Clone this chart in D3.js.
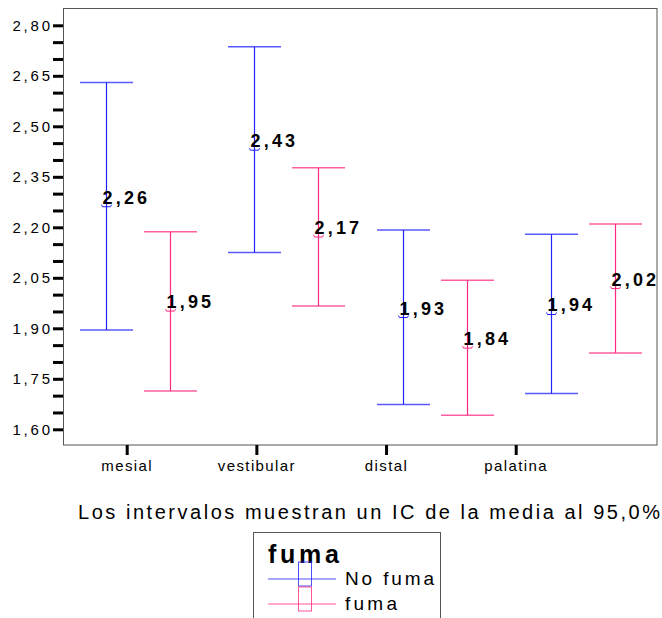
<!DOCTYPE html>
<html>
<head>
<meta charset="utf-8">
<script src="https://cdn.jsdelivr.net/npm/d3@7"></script>
<style>
  body { margin: 0; background: #fff; }
  svg { display: block; font-family: "Liberation Sans", Arial, sans-serif; }
</style>
</head>
<body>
<div id="chart"></div>
<script>
// categories and groups
const categories = ["mesial", "vestibular", "distal", "palatina"]
const groups = ["No fuma", "fuma"]

// means and 95% CI bounds
const noFumaMean  = [2.264, 2.432, 1.935, 1.944]
const noFumaLower = [1.895, 2.125, 1.674, 1.706]
const noFumaUpper = [2.630, 2.736, 2.192, 2.179]

const fumaMean  = [1.954, 2.174, 1.844, 2.021]
const fumaLower = [1.714, 1.966, 1.642, 1.827]
const fumaUpper = [2.187, 2.377, 2.043, 2.210]

const yTicks = [1.60, 1.75, 1.90, 2.05, 2.20, 2.35, 2.50, 2.65, 2.80]
const caption = "Los intervalos muestran un IC de la media al 95,0%"

const colours = { "No fuma": "#2222ff", "fuma": "#ff2a80" }

const width = 662, height = 618
const plot = { left: 63.5, right: 657, top: 8.5, bottom: 445 }

const svg = d3.select("#chart")
    .append("svg")
    .attr("width", width)
    .attr("height", height)

const y = d3.scaleLinear()
    .domain([1.60, 2.80])
    .range([429.3, 25.3])

// bars sit on a band over the whole plot, axis ticks on their own point scale
const xBand = d3.scaleBand()
    .domain(categories)
    .range([plot.left, plot.right])

const xGroup = d3.scalePoint()
    .domain(groups)
    .range([-31.8, 32.2])

const xTick = d3.scalePoint()
    .domain(categories)
    .range([126.7, 515.7])

const fmt = d => d3.format(".2f")(d).replace(".", ",")

// frame
svg.append("rect")
    .attr("x", plot.left)
    .attr("y", plot.top)
    .attr("width", plot.right - plot.left)
    .attr("height", plot.bottom - plot.top)
    .attr("fill", "none")
    .attr("stroke", "#555")

// y axis: minor ticks every 0.05, labels every 0.15
const minor = d3.range(0, 25).map(i => +(1.60 + i * 0.05).toFixed(2))
const yAxis = svg.append("g")
    .attr("transform", `translate(${plot.left - 0.5},0)`)
    .call(d3.axisLeft(y)
        .tickValues(minor)
        .tickSize(10)
        .tickPadding(3)
        .tickFormat(d => yTicks.some(t => Math.abs(t - d) < 1e-6) ? fmt(d) : ""))
yAxis.select(".domain").remove()
yAxis.selectAll(".tick line").attr("stroke", "#000").attr("stroke-width", 3)
yAxis.selectAll(".tick text")
    .attr("fill", "#000")
    .style("font-size", "15px")
    .style("letter-spacing", "2.8px")
    .attr("dx", "2.8px")

// x axis
const xAxis = svg.append("g")
    .attr("transform", `translate(0,${plot.bottom})`)
    .call(d3.axisBottom(xTick).tickSize(10).tickPadding(5))
xAxis.select(".domain").remove()
xAxis.selectAll(".tick line").attr("stroke", "#000").attr("stroke-width", 3)
xAxis.selectAll(".tick text")
    .attr("fill", "#000")
    .style("font-size", "15px")
    .style("letter-spacing", "1.4px")

// error bar rows
const rows = []
categories.forEach((c, i) => {
    rows.push({ cat: c, grp: "No fuma", mean: noFumaMean[i], lo: noFumaLower[i], hi: noFumaUpper[i] })
    rows.push({ cat: c, grp: "fuma", mean: fumaMean[i], lo: fumaLower[i], hi: fumaUpper[i] })
})
const cx = d => Math.round(xBand(d.cat) + xBand.bandwidth() / 2 + xGroup(d.grp)) + 0.5
const capHalf = 26.5

const bars = svg.append("g")
    .selectAll("g")
    .data(rows)
    .join("g")
    .attr("stroke", d => colours[d.grp])
    .attr("fill", "none")

bars.append("line")
    .attr("x1", cx).attr("x2", cx)
    .attr("y1", d => y(d.hi)).attr("y2", d => y(d.lo))
    .attr("stroke-width", 1.2)

bars.append("line")
    .attr("x1", d => cx(d) - capHalf).attr("x2", d => cx(d) + capHalf)
    .attr("y1", d => y(d.hi)).attr("y2", d => y(d.hi))
    .attr("stroke-width", 1.5)
    .attr("stroke-opacity", 0.75)

bars.append("line")
    .attr("x1", d => cx(d) - capHalf).attr("x2", d => cx(d) + capHalf)
    .attr("y1", d => y(d.lo)).attr("y2", d => y(d.lo))
    .attr("stroke-width", 1.5)
    .attr("stroke-opacity", 0.75)

// small mean marker
bars.append("path")
    .attr("d", d => {
        const x0 = cx(d), y0 = y(d.mean)
        return `M${x0 - 5},${y0 - 1} L${x0 - 4},${y0 + 1} L${x0 + 4},${y0 + 1} L${x0 + 5},${y0 - 1}`
    })

// mean labels
svg.append("g")
    .selectAll("text")
    .data(rows)
    .join("text")
    .attr("x", d => cx(d) - 4)
    .attr("y", d => y(d.mean) - 2)
    .attr("fill", "#000")
    .style("font-size", "18px")
    .style("font-weight", "bold")
    .style("letter-spacing", "3.2px")
    .text(d => fmt(Math.floor(d.mean * 100) / 100))

// caption
svg.append("text")
    .attr("x", 78)
    .attr("y", 519)
    .attr("textLength", 582)
    .attr("lengthAdjust", "spacing")
    .attr("fill", "#000")
    .style("font-size", "20px")
    .text(caption)

// legend
const legend = svg.append("g")
legend.append("rect")
    .attr("x", 253.5).attr("y", 532.5)
    .attr("width", 187).attr("height", 100)
    .attr("fill", "#fff")
    .attr("stroke", "#555")
legend.append("text")
    .attr("x", 268).attr("y", 563)
    .attr("textLength", 71)
    .attr("lengthAdjust", "spacing")
    .style("font-size", "25px")
    .style("font-weight", "bold")
    .text("fuma")

const legendY = d3.scalePoint().domain(groups).range([579, 604])
const item = legend.selectAll(".item")
    .data(groups)
    .join("g")
    .attr("class", "item")
item.append("line")
    .attr("x1", 268).attr("x2", 336)
    .attr("y1", d => legendY(d)).attr("y2", d => legendY(d))
    .attr("stroke", d => colours[d])
    .attr("stroke-opacity", 0.8)
item.append("rect")
    .attr("x", 298.5).attr("width", 13)
    .attr("y", d => legendY(d) - 17).attr("height", 24)
    .attr("fill", "none")
    .attr("stroke", d => colours[d])
    .attr("stroke-opacity", 0.8)
item.append("text")
    .attr("x", 345)
    .attr("y", d => legendY(d) + 6)
    .attr("textLength", d => d === "No fuma" ? 89 : 52)
    .attr("lengthAdjust", "spacing")
    .style("font-size", "19px")
    .text(d => d)
</script>
</body>
</html>
